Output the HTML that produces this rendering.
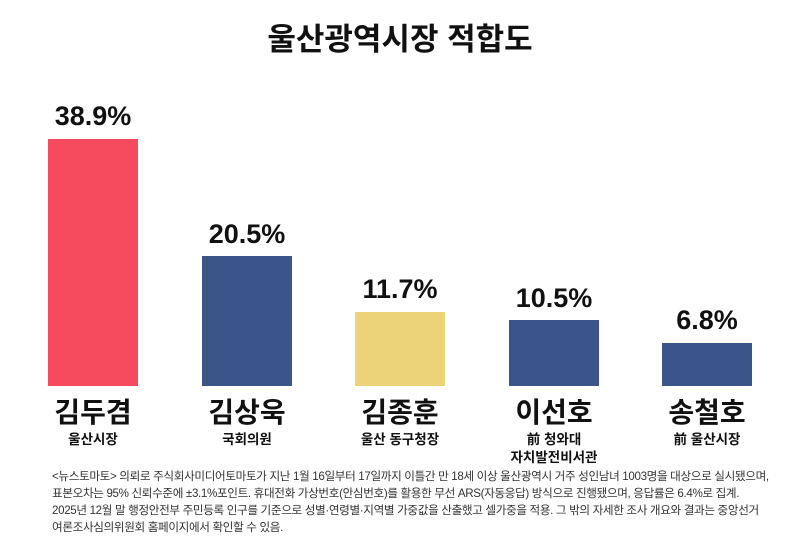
<!DOCTYPE html>
<html><head><meta charset="utf-8"><style>
body{margin:0;width:800px;height:539px;background:#fff;font-family:"Liberation Sans","Noto Sans CJK KR",sans-serif;position:relative;overflow:hidden;color:#111}
.a{position:absolute;white-space:nowrap}
.t{left:0;width:800px;text-align:center;top:14px;font-size:31px;font-weight:bold}
.bar{position:absolute;width:90px}
.v{position:absolute;width:150px;text-align:center;font-size:27px;font-weight:bold}
.n{position:absolute;width:150px;text-align:center;font-size:28px;font-weight:bold;top:391px}
.s{position:absolute;width:150px;text-align:center;font-size:13.5px;font-weight:bold;top:431px;line-height:18px}
.f{left:52px;font-size:11.6px;letter-spacing:-0.35px;color:#333;line-height:17px;top:468px}
</style></head><body>
<div class="a t">울산광역시장 적합도</div>
<div class="bar" style="left:48px;top:139px;height:247px;background:#f64a5e"></div>
<div class="bar" style="left:202px;top:256px;height:130px;background:#3b5489"></div>
<div class="bar" style="left:355px;top:312px;height:74px;background:#ecd278"></div>
<div class="bar" style="left:509px;top:320px;height:66px;background:#3b5489"></div>
<div class="bar" style="left:662px;top:343px;height:43px;background:#3b5489"></div>
<div class="v" style="left:18px;top:101px">38.9%</div>
<div class="v" style="left:172px;top:219px">20.5%</div>
<div class="v" style="left:325px;top:274px">11.7%</div>
<div class="v" style="left:479px;top:283px">10.5%</div>
<div class="v" style="left:632px;top:305px">6.8%</div>
<div class="n" style="left:18px">김두겸</div>
<div class="n" style="left:172px">김상욱</div>
<div class="n" style="left:325px">김종훈</div>
<div class="n" style="left:479px">이선호</div>
<div class="n" style="left:632px">송철호</div>
<div class="s" style="left:18px">울산시장</div>
<div class="s" style="left:172px">국회의원</div>
<div class="s" style="left:325px">울산 동구청장</div>
<div class="s" style="left:479px">前 청와대<br>자치발전비서관</div>
<div class="s" style="left:632px">前 울산시장</div>
<div class="a f">&lt;뉴스토마토&gt; 의뢰로 주식회사미디어토마토가 지난 1월 16일부터 17일까지 이틀간 만 18세 이상 울산광역시 거주 성인남녀 1003명을 대상으로 실시됐으며,<br>표본오차는 95% 신뢰수준에 ±3.1%포인트. 휴대전화 가상번호(안심번호)를 활용한 무선 ARS(자동응답) 방식으로 진행됐으며, 응답률은 6.4%로 집계.<br>2025년 12월 말 행정안전부 주민등록 인구를 기준으로 성별·연령별·지역별 가중값을 산출했고 셀가중을 적용. 그 밖의 자세한 조사 개요와 결과는 중앙선거<br>여론조사심의위원회 홈페이지에서 확인할 수 있음.</div>
</body></html>
